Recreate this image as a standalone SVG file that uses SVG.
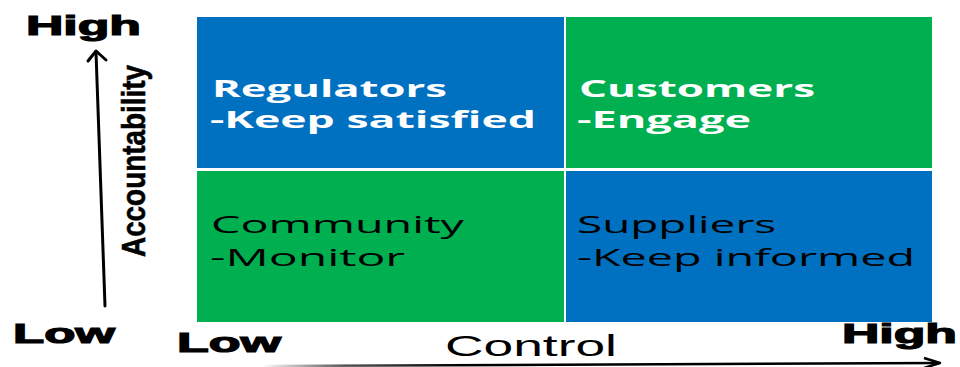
<svg xmlns="http://www.w3.org/2000/svg" width="960" height="367" viewBox="0 0 960 367">
<defs>
<linearGradient id="hgrad" x1="0" y1="0" x2="1" y2="0">
<stop offset="0" stop-color="#ffffff"/>
<stop offset="0.12" stop-color="#555555"/>
<stop offset="0.3" stop-color="#000000"/>
<stop offset="1" stop-color="#000000"/>
</linearGradient>
</defs>
<style>
.blue{fill:#0070c0}
.green{fill:#00b050}
.qw{font-family:"Open Sans","DejaVu Sans",sans-serif;font-size:23px;font-weight:bold;fill:#ffffff}
.qb{font-family:"Open Sans","DejaVu Sans",sans-serif;font-size:23px;fill:#000000}
.ax{font-family:"Liberation Sans",Arial,sans-serif;font-size:28px;font-weight:bold;fill:#000000;stroke:#000000;stroke-width:1.2}
.axis{stroke:#000000;stroke-width:3;fill:none;stroke-linecap:round;stroke-linejoin:round}
</style>
<rect width="960" height="367" fill="#ffffff"/>
<g id="regulators">
<rect class="blue" x="197" y="17" width="367" height="151"/>
<text class="qw" x="212" y="97" textLength="235" lengthAdjust="spacingAndGlyphs">Regulators</text>
<text class="qw" x="210" y="128" textLength="326" lengthAdjust="spacingAndGlyphs">-Keep satisfied</text>
</g>
<g id="customers">
<rect class="green" x="566" y="17" width="366" height="151"/>
<text class="qw" x="579" y="97" textLength="236" lengthAdjust="spacingAndGlyphs">Customers</text>
<text class="qw" x="577" y="128" textLength="174" lengthAdjust="spacingAndGlyphs">-Engage</text>
</g>
<g id="community">
<rect class="green" x="197" y="171" width="367" height="151"/>
<text class="qb" x="211" y="233" textLength="253" lengthAdjust="spacingAndGlyphs">Community</text>
<text class="qb" x="210" y="266" textLength="195" lengthAdjust="spacingAndGlyphs">-Monitor</text>
</g>
<g id="suppliers">
<rect class="blue" x="566" y="171" width="366" height="151"/>
<text class="qb" x="577" y="233" textLength="199" lengthAdjust="spacingAndGlyphs">Suppliers</text>
<text class="qb" x="577" y="266" textLength="338" lengthAdjust="spacingAndGlyphs">-Keep informed</text>
</g>
<g id="axis-labels">
<text class="ax" x="26" y="35" textLength="115" lengthAdjust="spacingAndGlyphs">High</text>
<text class="ax" x="13" y="343" textLength="102" lengthAdjust="spacingAndGlyphs">Low</text>
<text class="ax" x="177" y="352" textLength="104" lengthAdjust="spacingAndGlyphs">Low</text>
<text class="ax" x="842" y="343" textLength="115" lengthAdjust="spacingAndGlyphs">High</text>
<text x="445" y="356" font-family="'Liberation Sans',Arial,sans-serif" font-size="29" fill="#000000" textLength="172" lengthAdjust="spacingAndGlyphs">Control</text>
<text transform="translate(145,257) rotate(-90)" font-family="'Liberation Sans Narrow','Liberation Sans',Arial,sans-serif" font-size="33" font-weight="bold" fill="#000000" stroke="#000000" stroke-width="0.6" textLength="192" lengthAdjust="spacingAndGlyphs">Accountability</text>
</g>
<g id="connectors">
<line class="axis" x1="105" y1="306" x2="96" y2="52"/>
<polyline class="axis" points="88,61 96,51 106,60"/>
<line x1="262" y1="366" x2="939" y2="363" stroke="url(#hgrad)" stroke-width="2.5"/>
<polyline points="924,358 940,363 924,368" fill="none" stroke="#000000" stroke-width="2.5" stroke-linejoin="round"/>
</g>
</svg>
